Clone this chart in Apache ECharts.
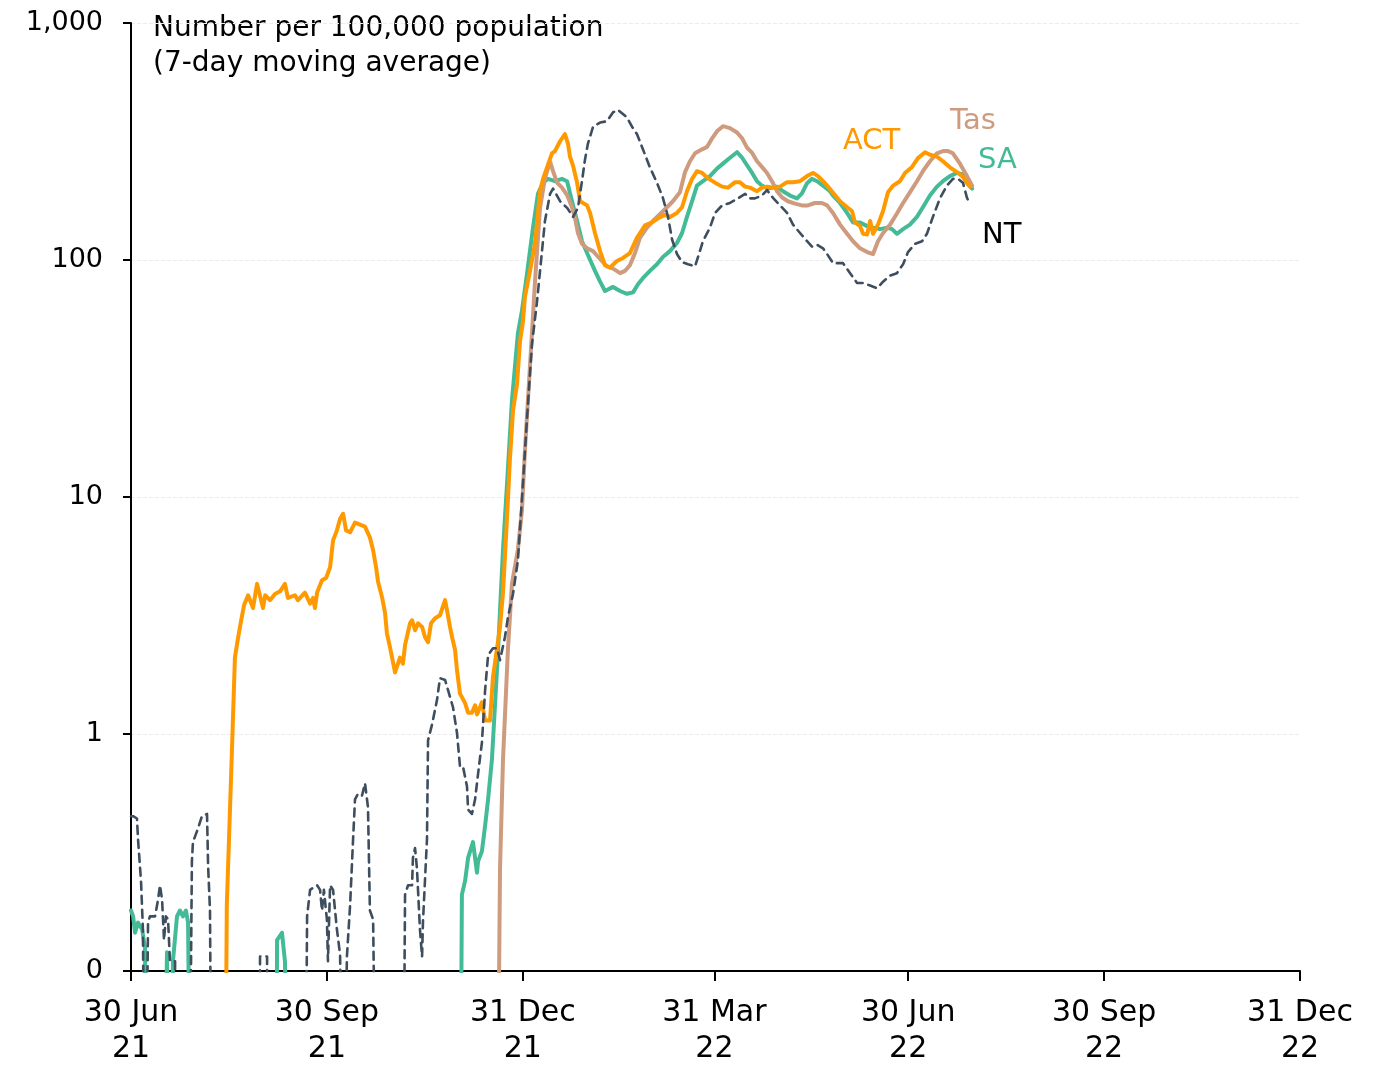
<!DOCTYPE html>
<html>
<head>
<meta charset="utf-8">
<title>Cases per 100,000</title>
<script src="https://cdn.jsdelivr.net/npm/echarts@6/dist/echarts.min.js"></script>
<style>
  html, body { margin: 0; padding: 0; background: #fff; }
  #chart { width: 1385px; height: 1069px; }
</style>
</head>
<body>
<div id="chart"></div>
<script>
// x values are days after 30 Jun 2021, y values per 100,000 (0 = nothing reported)
var quarterDays = [0, 92, 184, 274, 365, 457, 549];
var quarterLabels = ['30 Jun\n21', '30 Sep\n21', '31 Dec\n21', '31 Mar\n22', '30 Jun\n22', '30 Sep\n22', '31 Dec\n22'];

var actData = [
  [0,0],[44,0],[45,0.19],[47.4,0.85],[48.8,2.1],[50.3,2.55],[51.7,3.0],[53.1,3.5],[55,3.85],[57.3,3.4],[59.2,4.3],[62,3.4],[63,3.85],[65.3,3.67],[67.6,3.9],[70,4.0],[72.3,4.3],[73.7,3.75],[77,3.85],[78.4,3.67],[81.7,3.95],[84.1,3.55],[85.5,3.75],[86.4,3.4],[87.4,3.95],[89.7,4.45],[91.6,4.55],[93.5,5.05],[94.9,6.56],[96.7,7.23],[98.2,8.1],[99.6,8.5],[101,7.23],[102.9,7.1],[105.2,7.8],[109.9,7.5],[112.2,6.75],[113.7,5.96],[115.1,5.05],[116,4.4],[117.9,3.78],[119.3,3.24],[120.2,2.66],[121.6,2.33],[122.6,2.1],[124,1.82],[126.3,2.1],[127.7,1.98],[128.7,2.37],[131,2.93],[132,3.02],[133.4,2.74],[134.8,2.93],[136.7,2.83],[138.1,2.56],[139.5,2.44],[140.9,2.93],[142.8,3.08],[145.1,3.17],[147.5,3.67],[148.4,3.33],[149.8,2.83],[150.8,2.56],[152.2,2.26],[153.1,1.86],[154.5,1.48],[156.9,1.35],[158.3,1.23],[160.1,1.23],[161.6,1.32],[162.5,1.21],[164.8,1.36],[166.3,1.14],[168.6,1.14],[170,1.74],[173.3,2.83],[174.7,3.95],[176.6,8.2],[178,14.7],[179.4,23.1],[181.3,30],[182.7,45.6],[184.1,55],[185,70],[187.4,90],[189.7,117],[192.1,195],[193.5,220],[197.7,282],[199.1,288],[201.5,317],[203.8,340],[205.2,310],[206.2,272],[207.6,250],[209.5,212],[210.9,177],[214.2,170],[215.6,158],[217.9,130],[220.3,109],[222.6,95],[225,93],[228.2,99],[231.1,102],[234.3,107],[237.6,124],[241.4,140],[244.7,144],[247.5,150],[250.8,155],[253.1,152],[256.4,158],[258.8,167],[261.1,195],[263.5,220],[265.8,237],[268.2,233],[271,221],[274.3,212],[277.6,204],[280.4,202],[283.7,213],[286,213],[288.4,204],[290.7,202],[294,195],[296.3,202],[298.7,204],[301.5,202],[304.8,204],[308.1,213],[310.9,213],[314.2,215],[317.5,226],[320.3,233],[322.6,226],[325,215],[327.3,204],[329.7,192],[333,177],[336.3,167],[338.6,161],[340,144],[342.4,139],[343.8,129],[345.7,128],[347.1,146],[348.5,129],[350.8,141],[353.2,161],[355.5,193],[357.9,206],[361.1,215],[363.5,233],[366.8,247],[369.6,269],[372.9,285],[375.2,278],[378.5,273],[381.3,261],[384.6,246],[387.9,235],[390.7,224],[394,204]
];

var saData = [
  [0,0.18],[1,0.17],[1.9,0.145],[3.3,0.16],[5.2,0.15],[6.6,0.125],[7.5,0],[15,0],[16.9,0.12],[18.3,0],[19.7,0.11],[21.6,0.17],[23,0.18],[24.4,0.17],[25.8,0.18],[26.8,0.16],[28.2,0],[68,0],[68.6,0.135],[70.9,0.145],[72.3,0.11],[74.7,0],[154.5,0],[155.4,0.21],[156.9,0.24],[158.3,0.3],[160.6,0.35],[162.5,0.26],[163,0.29],[164.8,0.32],[166.3,0.41],[167.7,0.53],[169.5,0.78],[170.9,1.3],[172.4,2.26],[174.7,6.0],[176.6,11.4],[178.9,25.5],[181.7,49],[183.6,61],[186,88],[188.8,137],[191.1,190],[193.5,212],[195.8,220],[199.1,215],[202.4,220],[204.8,215],[207.1,177],[209.5,146],[211.8,120],[214.6,105],[217.9,90],[220.3,81],[222.6,74],[226.4,77],[229.7,74],[232.9,72],[235.8,73],[238.1,79],[240.5,84],[243.7,90],[247,96],[249.8,103],[253.1,109],[256.4,118],[258.8,130],[261.1,152],[263.5,177],[265.8,206],[268.6,215],[271.9,226],[275.2,243],[278,255],[281.3,270],[284.6,285],[287,270],[289.3,251],[291.7,233],[294,215],[296.3,206],[299.2,200],[303.4,204],[306.2,195],[309.5,187],[312.8,182],[315.1,191],[317.5,211],[319.8,220],[322.2,215],[325,206],[328.3,195],[329.7,187],[333,174],[336.3,158],[339.1,144],[342.4,144],[345.7,139],[348.5,137],[351.8,135],[355.1,137],[357.4,135],[359.7,129],[362.6,135],[365.8,141],[369.1,152],[371.9,167],[375.2,187],[378.5,204],[381.3,215],[384.6,226],[387.9,233],[390.3,230],[392.6,211],[395,200]
];

var tasData = [
  [0,0],[171.9,0],[173.3,0.27],[174.7,0.78],[177,2.26],[178.9,4.3],[181.7,6.0],[183.6,8.8],[185,15.7],[186.4,25.5],[188.3,49],[189.7,80],[190.7,109],[192.1,166],[194.4,221],[196.8,260],[198.2,237],[200.1,212],[202.4,202],[204.8,188],[207.1,167],[208.5,151],[209.9,130],[211.8,117],[214.2,112],[217,109],[220.3,101],[223.5,94],[226.4,92],[229.7,88],[232,90],[234.3,95],[236.7,107],[239,124],[242.3,137],[245.1,146],[248.4,156],[251.7,167],[254.5,177],[257.8,193],[260.2,235],[262.5,261],[264.9,282],[268.2,293],[270.5,300],[272.9,326],[275.2,349],[278,367],[281.3,360],[284.6,345],[287,326],[289.3,298],[291.7,283],[294,261],[296.3,247],[298.7,233],[301,215],[303.4,195],[305.7,184],[308.5,177],[311.8,173],[315.1,170],[317.9,170],[321.2,174],[324.5,174],[326.9,170],[329.7,158],[333,141],[336.3,129],[339.1,120],[342.4,112],[345.7,108],[348.5,106],[350.8,120],[353.2,130],[356.5,141],[359.7,157],[362.6,174],[365.8,193],[369.1,215],[371.9,237],[375.2,261],[378.5,282],[381.3,288],[383.7,288],[386,282],[389.3,255],[392.6,226],[395,206]
];

var ntData = [
  [0,0.45],[1,0.45],[2.8,0.44],[3.3,0.36],[4.7,0.24],[5.6,0.15],[6.6,0],[7.5,0],[8,0.16],[8.9,0.17],[11.3,0.17],[12.7,0.2],[13.6,0.23],[14.6,0.2],[15.5,0.135],[16.4,0.17],[17.4,0.165],[18.3,0.11],[20.7,0.11],[21.1,0],[27.2,0],[28.6,0.29],[29.1,0.35],[31.5,0.4],[33.3,0.45],[35.7,0.46],[36.2,0.28],[37.1,0.18],[38,0],[60.1,0],[60.6,0.115],[63.9,0.115],[64.3,0],[81.7,0],[82.7,0.17],[84.1,0.22],[87.4,0.23],[88.8,0.22],[89.7,0.18],[90.6,0.22],[92,0.165],[92.5,0.11],[93.5,0.23],[94.9,0.22],[96.7,0.15],[98.2,0.117],[99.6,0],[101.4,0.115],[102.9,0.19],[104.3,0.36],[105.2,0.53],[106.6,0.56],[108.5,0.55],[109.9,0.62],[111.3,0.49],[112.2,0.18],[113.7,0.165],[115.5,0],[127.7,0],[128.7,0.21],[130.1,0.23],[132,0.23],[132.4,0.3],[133.4,0.33],[134.3,0.27],[135.7,0.15],[136.7,0.115],[137.1,0.16],[139,0.36],[139.5,0.94],[141.4,1.1],[143.7,1.39],[145.1,1.72],[147.5,1.69],[148.9,1.53],[151.2,1.3],[153.1,1.01],[154.5,0.73],[155.9,0.73],[157.8,0.6],[158.3,0.48],[160.1,0.46],[161.6,0.53],[163,0.68],[164.8,0.92],[166.3,1.53],[167.7,2.15],[170,2.3],[171.9,2.3],[173.3,2.05],[175.6,2.56],[177,3.1],[179.4,3.9],[181.7,5.4],[184.1,11.5],[186,21.6],[188.3,44],[190.7,67],[192.1,90],[194.4,146],[196.8,190],[198.2,200],[201.5,177],[204.8,166],[207.6,152],[209.9,166],[211.8,215],[213.2,265],[214.6,310],[217,365],[220.3,380],[223.5,385],[226.4,420],[228.7,430],[232.9,400],[235.3,365],[237.6,340],[240.5,292],[243.7,246],[247,212],[249.8,183],[252.2,152],[254.1,122],[256.4,106],[258.8,98],[261.6,96],[264.9,94],[266.3,103],[268.6,120],[271.9,137],[274.3,158],[277.6,170],[281.3,174],[285.1,182],[288.4,190],[290.7,182],[293,182],[296.3,187],[298.7,197],[301.5,183],[304.8,170],[308.1,158],[310.9,141],[314.2,130],[317.5,120],[319.8,114],[322.2,116],[325,112],[326.9,106],[329.7,97],[334.4,97],[337.7,88],[341,80],[343.8,80],[347.1,78],[350.4,76],[353.2,81],[356.5,86],[359.7,88],[362.6,96],[364.9,108],[368.2,117],[371.5,120],[373.8,129],[376.6,152],[379.9,182],[383.2,206],[386,220],[388.4,220],[390.7,212],[392.6,183],[394,172]
];

var FONT = 'DejaVu Sans';
var colors = { ACT: '#ff9900', SA: '#43bb96', Tas: '#cf9b7e', NT: '#3e4e5e' };

// zeros can't sit on a log axis: push them below the axis minimum so they get clipped
function toLog(data) {
  return data.map(function (d) { return [d[0], d[1] > 0 ? d[1] : 0.01]; });
}

function lineSeries(name, data, width, type) {
  return {
    name: name,
    type: 'line',
    data: toLog(data),
    showSymbol: false,
    symbol: 'none',
    clip: true,
    lineStyle: { color: colors[name], width: width, type: type || 'solid', cap: 'round', join: 'round' },
    emphasis: { disabled: true }
  };
}

var myChart = echarts.init(document.getElementById('chart'));

var option = {
  animation: false,
  backgroundColor: '#fff',
  textStyle: { fontFamily: FONT },
  grid: { left: 131, right: 85, top: 23, bottom: 98, containLabel: false, outerBoundsMode: 'none' },
  xAxis: {
    type: 'value',
    min: 0,
    max: 549,
    axisLine: { lineStyle: { color: '#000', width: 2 } },
    axisTick: { show: true, length: 10, customValues: quarterDays, lineStyle: { color: '#000', width: 2 } },
    axisLabel: {
      customValues: quarterDays,
      margin: 24,
      color: '#000',
      fontSize: 30,
      lineHeight: 36,
      fontFamily: FONT,
      formatter: function (v) {
        var i = quarterDays.indexOf(Math.round(v));
        return i >= 0 ? quarterLabels[i] : '';
      }
    },
    splitLine: { show: false }
  },
  yAxis: {
    type: 'log',
    logBase: 10,
    min: 0.1,
    max: 1000,
    axisLine: { show: true, lineStyle: { color: '#000', width: 2 } },
    axisTick: { show: true, length: 8, lineStyle: { color: '#000', width: 2 } },
    axisLabel: {
      margin: 28,
      color: '#000',
      fontSize: 27,
      fontFamily: FONT,
      formatter: function (v) {
        if (v < 1) return '0';
        return Math.round(v).toLocaleString('en-US');
      }
    },
    splitLine: { show: true, lineStyle: { color: '#ececec', width: 1, type: 'dashed' } }
  },
  graphic: [
    { type: 'text', x: 153, y: 11, style: { text: 'Number per 100,000 population\n(7-day moving average)', font: '28px ' + FONT, fill: '#000', lineHeight: 35 } },
    { type: 'text', x: 843, y: 141, style: { text: 'ACT', font: '29px ' + FONT, fill: colors.ACT, textVerticalAlign: 'middle' } },
    { type: 'text', x: 950, y: 121, style: { text: 'Tas', font: '29px ' + FONT, fill: colors.Tas, textVerticalAlign: 'middle' } },
    { type: 'text', x: 978, y: 160, style: { text: 'SA', font: '29px ' + FONT, fill: colors.SA, textVerticalAlign: 'middle' } },
    { type: 'text', x: 982, y: 235, style: { text: 'NT', font: '29px ' + FONT, fill: '#000', textVerticalAlign: 'middle' } }
  ],
  series: [
    lineSeries('SA', saData, 4),
    lineSeries('Tas', tasData, 4),
    lineSeries('ACT', actData, 4),
    lineSeries('NT', ntData, 2.6, [8, 6])
  ]
};

myChart.setOption(option);
</script>
</body>
</html>
